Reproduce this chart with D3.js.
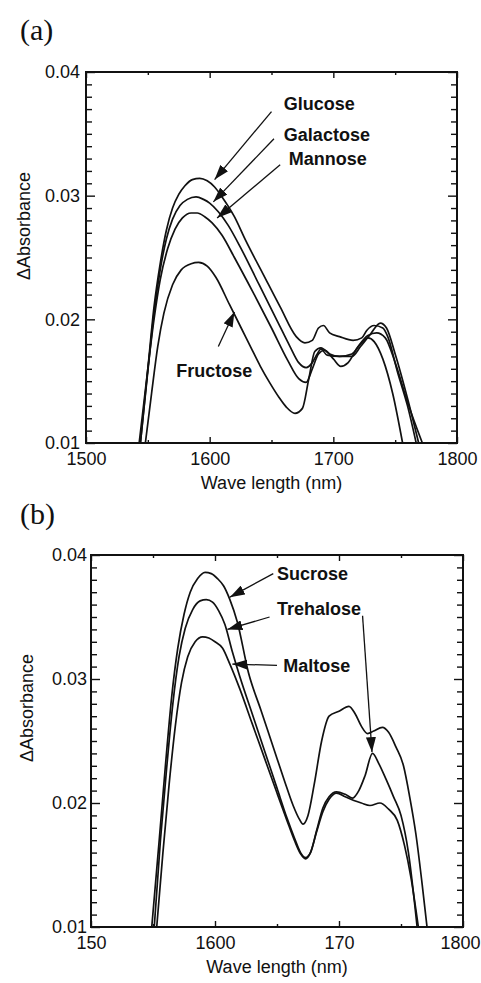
<!DOCTYPE html>
<html>
<head>
<meta charset="utf-8">
<script src="https://cdnjs.cloudflare.com/ajax/libs/d3/7.8.5/d3.min.js"></script>
<style>
  html, body { margin: 0; padding: 0; background: #fff; }
  svg { display: block; }
  text { font-family: 'Liberation Sans', Arial, sans-serif; fill: #111; }
  .panel-tag { font-family: 'Liberation Serif', 'Times New Roman', serif; font-size: 30px; }
  .tick text { font-size: 18px; }
  .axis-title { font-size: 18px; }
  .note { font-size: 18px; font-weight: bold; }
  .curve { fill: none; stroke: #111; stroke-width: 1.7; stroke-linejoin: round; }
  .arrow { stroke: #111; stroke-width: 1.3; }
  .frame { fill: none; stroke: #111; stroke-width: 2; }
  .tick line { stroke: #111; stroke-width: 1.4; }
</style>
</head>
<body>
<div id="chart"></div>
<script>
// ---- data (wavelength nm, delta absorbance) ----
const glucose = [
  [1544, 0.0100], [1550, 0.0160], [1555, 0.0210], [1560, 0.0245], [1565, 0.0272],
  [1570, 0.0290], [1575, 0.0301], [1580, 0.0308], [1586, 0.0313], [1592, 0.0314],
  [1598, 0.0312], [1604, 0.0307], [1610, 0.0299], [1620, 0.0283], [1629, 0.0264],
  [1643, 0.0237], [1657, 0.0210], [1670, 0.0186], [1677, 0.0181], [1683, 0.0183],
  [1688, 0.0193], [1692, 0.0195], [1697, 0.0189], [1705, 0.0186], [1716, 0.0183],
  [1723, 0.0185], [1727, 0.0191], [1733, 0.0195], [1740, 0.0193], [1744, 0.0186],
  [1752, 0.0157], [1760, 0.0130], [1767, 0.0100]
];
const galactose = [
  [1544, 0.0100], [1550, 0.0158], [1555, 0.0205], [1560, 0.0240], [1565, 0.0265],
  [1570, 0.0281], [1576, 0.0292], [1582, 0.0297], [1589, 0.0299], [1595, 0.0297],
  [1600, 0.0294], [1607, 0.0287], [1615, 0.0276], [1625, 0.0258], [1640, 0.0228],
  [1655, 0.0198], [1665, 0.0178], [1672, 0.0165], [1678, 0.0161], [1683, 0.0165],
  [1687, 0.0172], [1690, 0.0176], [1695, 0.0171], [1705, 0.0170], [1715, 0.0170],
  [1722, 0.0178], [1730, 0.0188], [1738, 0.0197], [1743, 0.0193], [1750, 0.0172],
  [1760, 0.0136], [1769, 0.0100]
];
const mannose = [
  [1543, 0.0100], [1550, 0.0160], [1555, 0.0200], [1560, 0.0232], [1566, 0.0257],
  [1572, 0.0273], [1578, 0.0282], [1585, 0.0286], [1590, 0.0286], [1596, 0.0283],
  [1602, 0.0278], [1610, 0.0268], [1620, 0.0250], [1635, 0.0222], [1650, 0.0193],
  [1663, 0.0167], [1672, 0.0152], [1678, 0.0149], [1683, 0.0160], [1688, 0.0172],
  [1693, 0.0175], [1700, 0.0168], [1706, 0.0162], [1712, 0.0165], [1720, 0.0178],
  [1728, 0.0187], [1735, 0.0189], [1742, 0.0185], [1750, 0.0165], [1760, 0.0133],
  [1772, 0.0100]
];
const fructose = [
  [1548, 0.0100], [1553, 0.0140], [1558, 0.0178], [1563, 0.0205], [1570, 0.0228],
  [1577, 0.0240], [1585, 0.0245], [1591, 0.0246], [1598, 0.0243], [1605, 0.0234],
  [1616, 0.0212], [1625, 0.0194], [1633, 0.0178], [1641, 0.0162], [1649, 0.0148],
  [1656, 0.0137], [1662, 0.0129], [1669, 0.0124], [1675, 0.0128], [1680, 0.0151],
  [1685, 0.0174], [1690, 0.0177], [1697, 0.0172], [1705, 0.0170], [1715, 0.0172],
  [1722, 0.0180], [1728, 0.0185], [1733, 0.0182], [1740, 0.0168], [1748, 0.0140],
  [1756, 0.0100]
];

const sucrose = [
  [1549, 0.0100], [1555, 0.0170], [1560, 0.0230], [1565, 0.0285], [1570, 0.0325],
  [1575, 0.0352], [1580, 0.0370], [1586, 0.0381], [1592, 0.0386], [1597, 0.0385],
  [1602, 0.0381], [1607, 0.0375], [1612, 0.0364], [1618, 0.0346], [1627, 0.0305],
  [1637, 0.0275], [1647, 0.0245], [1656, 0.0218], [1663, 0.0198], [1668, 0.0187],
  [1671, 0.0183], [1675, 0.0190], [1680, 0.0215], [1686, 0.0250], [1692, 0.0270],
  [1700, 0.0274], [1708, 0.0278], [1713, 0.0272], [1718, 0.0262], [1723, 0.0256],
  [1728, 0.0258], [1735, 0.0261], [1740, 0.0257], [1746, 0.0245], [1752, 0.0230],
  [1757, 0.0205], [1762, 0.0175], [1767, 0.0135], [1771, 0.0100]
];
const trehalose = [
  [1551, 0.0100], [1556, 0.0170], [1561, 0.0228], [1566, 0.0280], [1571, 0.0318],
  [1576, 0.0341], [1582, 0.0356], [1588, 0.0363], [1593, 0.0364], [1598, 0.0362],
  [1603, 0.0355], [1608, 0.0344], [1614, 0.0322], [1620, 0.0302], [1630, 0.0272],
  [1640, 0.0242], [1650, 0.0212], [1658, 0.0188], [1664, 0.0172], [1669, 0.0160],
  [1673, 0.0156], [1677, 0.0160], [1682, 0.0178], [1687, 0.0196], [1692, 0.0205],
  [1698, 0.0209], [1705, 0.0207], [1711, 0.0204], [1716, 0.0210], [1721, 0.0222],
  [1727, 0.0240], [1732, 0.0232], [1738, 0.0219], [1744, 0.0205], [1750, 0.0190],
  [1756, 0.0160], [1763, 0.0100]
];
const maltose = [
  [1553, 0.0100], [1558, 0.0160], [1563, 0.0215], [1568, 0.0262], [1573, 0.0297],
  [1578, 0.0318], [1584, 0.0330], [1590, 0.0334], [1595, 0.0333], [1600, 0.0330],
  [1606, 0.0325], [1612, 0.0312], [1620, 0.0292], [1630, 0.0264], [1640, 0.0236],
  [1650, 0.0208], [1658, 0.0186], [1664, 0.0170], [1669, 0.0159], [1673, 0.0155],
  [1677, 0.0160], [1682, 0.0177], [1687, 0.0193], [1692, 0.0203], [1698, 0.0208],
  [1705, 0.0205], [1712, 0.0202], [1718, 0.0200], [1725, 0.0198], [1733, 0.0200],
  [1740, 0.0195], [1747, 0.0186], [1753, 0.0165], [1758, 0.0140], [1764, 0.0100]
];

// ---- axes ----
const xMajor = [1500, 1600, 1700, 1800];
const xMinor = [1550, 1650, 1750];
const xLabelsA = ['1500', '1600', '1700', '1800'];
const xLabelsB = ['150', '1600', '170', '1800'];   // as printed in the figure
const yMajor = [0.01, 0.02, 0.03, 0.04];
const yLabels = ['0.01', '0.02', '0.03', '0.04'];

// labels with arrows, in data units: text baseline start, arrow tail, arrow tip
const notesA = [
  { text: 'Glucose',   at: [1660, 0.0369], from: [1650, 0.0368], to: [1604, 0.0313] },
  { text: 'Galactose', at: [1660, 0.0344], from: [1652, 0.0346], to: [1603, 0.0295] },
  { text: 'Mannose',   at: [1664, 0.0325], from: [1657, 0.0325], to: [1606, 0.0282] },
  { text: 'Fructose',  at: [1573, 0.0153], from: [1607, 0.0178], to: [1620, 0.0206] }
];
const notesB = [
  { text: 'Sucrose',   at: [1650, 0.0380], from: [1647, 0.0385], to: [1612, 0.0366] },
  { text: 'Trehalose', at: [1650, 0.0352], from: [1644, 0.0350], to: [1610, 0.0340] },
  { text: null,        at: null,           from: [1719, 0.0351], to: [1726.6, 0.0241] },
  { text: 'Maltose',   at: [1655, 0.0306], from: [1650, 0.0311], to: [1614, 0.0312] }
];

const W = 481, H = 983;
const svg = d3.select('#chart').append('svg')
  .attr('width', W).attr('height', H)
  .style('background', '#fff');

const defs = svg.append('defs');
defs.append('marker')
  .attr('id', 'head')
  .attr('viewBox', '0 0 15 10')
  .attr('refX', 15).attr('refY', 5)
  .attr('markerWidth', 15).attr('markerHeight', 10)
  .attr('markerUnits', 'userSpaceOnUse')
  .attr('orient', 'auto')
  .append('path')
  .attr('d', 'M0,0 L15,5 L0,10 Z')
  .attr('fill', '#111');

function drawPanel(cfg) {
  const w = cfg.right - cfg.left;
  const h = cfg.bottom - cfg.top;
  const g = svg.append('g').attr('transform', `translate(${cfg.left},${cfg.top})`);

  const x = d3.scaleLinear().domain([1500, 1800]).range([0, w]);
  const y = d3.scaleLinear().domain([0.01, 0.04]).range([h, 0]);
  const yMinor = d3.range(11, 40).filter(v => v % 10 !== 0).map(v => v / 1000);

  svg.append('text').attr('class', 'panel-tag')
    .attr('x', cfg.tagX).attr('y', cfg.tagY).text(cfg.tag);

  const clipId = 'clip-' + cfg.tag.replace(/\W/g, '');
  defs.append('clipPath').attr('id', clipId)
    .append('rect').attr('width', w).attr('height', h);

  // ticks (inward) on all four sides
  const bottom = g.append('g').attr('transform', `translate(0,${h})`)
    .call(d3.axisBottom(x).tickValues(xMajor).tickSize(-6).tickSizeOuter(0)
      .tickPadding(9).tickFormat((d, i) => cfg.xLabels[i]));
  g.append('g').attr('transform', `translate(0,${h})`)
    .call(d3.axisBottom(x).tickValues(xMinor).tickSize(-3).tickFormat(''));
  g.append('g')
    .call(d3.axisTop(x).tickValues(xMajor).tickSize(-6).tickFormat(''));
  g.append('g')
    .call(d3.axisTop(x).tickValues(xMinor).tickSize(-3).tickFormat(''));

  g.append('g')
    .call(d3.axisLeft(y).tickValues(yMajor).tickSize(-9).tickPadding(cfg.yPad)
      .tickFormat((d, i) => yLabels[i]));
  g.append('g')
    .call(d3.axisLeft(y).tickValues(yMinor).tickSize(-6).tickFormat(''));
  g.append('g').attr('transform', `translate(${w},0)`)
    .call(d3.axisRight(y).tickValues(yMajor).tickSize(-9).tickFormat(''));
  g.append('g').attr('transform', `translate(${w},0)`)
    .call(d3.axisRight(y).tickValues(yMinor).tickSize(-6).tickFormat(''));

  g.selectAll('.domain').remove();
  g.selectAll('.tick text').attr('fill', '#111');
  bottom.selectAll('.tick text').attr('dy', '0.72em');
  // keep the last tick label inside the page edge
  bottom.selectAll('.tick text')
    .filter(d => d === 1800 && cfg.left + w + 20 > W)
    .attr('text-anchor', 'end').attr('x', W - 1 - cfg.left - w);

  g.append('rect').attr('class', 'frame').attr('width', w).attr('height', h);

  // spectra
  const line = d3.line()
    .x(d => x(d[0])).y(d => y(d[1]))
    .curve(d3.curveMonotoneX);
  g.append('g').attr('clip-path', `url(#${clipId})`)
    .selectAll('path').data(cfg.series)
    .join('path')
    .attr('class', 'curve')
    .attr('d', d => line(d));

  // annotations
  cfg.notes.forEach(n => {
    g.append('line').attr('class', 'arrow')
      .attr('x1', x(n.from[0])).attr('y1', y(n.from[1]))
      .attr('x2', x(n.to[0])).attr('y2', y(n.to[1]))
      .attr('marker-end', 'url(#head)');
    if (n.text) {
      g.append('text').attr('class', 'note')
        .attr('x', x(n.at[0])).attr('y', y(n.at[1]))
        .text(n.text);
    }
  });

  // axis titles
  g.append('text').attr('class', 'axis-title')
    .attr('text-anchor', 'middle')
    .attr('x', w / 2).attr('y', h + cfg.xTitleGap)
    .text('Wave length (nm)');
  g.append('text').attr('class', 'axis-title')
    .attr('text-anchor', 'middle')
    .attr('transform', `translate(${cfg.yTitleX - cfg.left},${cfg.yTitleY - cfg.top}) rotate(-90)`)
    .attr('dy', '0.35em')
    .text('\u0394Absorbance');
}

drawPanel({
  tag: '(a)', tagX: 20, tagY: 40,
  left: 86, top: 72, right: 457, bottom: 443,
  xLabels: xLabelsA, yPad: 6,
  series: [glucose, galactose, mannose, fructose],
  notes: notesA,
  xTitleGap: 46, yTitleX: 24, yTitleY: 226
});

drawPanel({
  tag: '(b)', tagX: 20, tagY: 524,
  left: 91, top: 555, right: 463, bottom: 927,
  xLabels: xLabelsB, yPad: 4,
  series: [sucrose, trehalose, maltose],
  notes: notesB,
  xTitleGap: 46, yTitleX: 27, yTitleY: 708
});
</script>
</body>
</html>
